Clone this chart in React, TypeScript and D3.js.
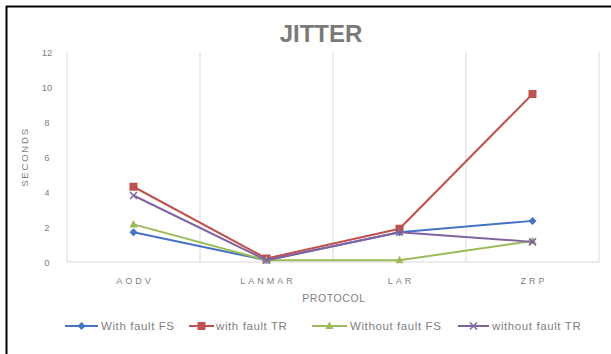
import React from "react";
import * as d3 from "d3";

const categories = ["AODV", "LANMAR", "LAR", "ZRP"];
const seriesNames = ["With fault FS", "with fault TR", "Without fault FS", "without fault TR"];
const withFaultFS = [1.7, 0.1, 1.7, 2.35];
const withFaultTR = [4.3, 0.2, 1.9, 9.6];
const withoutFaultFS = [2.15, 0.1, 0.1, 1.2];
const withoutFaultTR = [3.8, 0.1, 1.7, 1.15];
const yTicks = [0, 2, 4, 6, 8, 10, 12];
const colors = ["#4472c4", "#c0504d", "#9bbb59", "#8064a2"];
const markers = ["diamond", "square", "triangle", "x"];

export default function App() {
  const W = 611, H = 354;
  const left = 67, right = 599, top = 52, bottom = 262;
  const x = d3.scaleBand().domain(categories).range([left, right]);
  const y = d3.scaleLinear().domain([0, 12]).range([bottom, top]);
  const data = [withFaultFS, withFaultTR, withoutFaultFS, withoutFaultTR];
  const cx = (i: number) => x(categories[i])! + x.bandwidth() / 2;
  const line = d3.line<number>().x((_, i) => cx(i)).y((d) => y(d));
  const font = "'Liberation Sans', Arial, sans-serif";

  const marker = (type: string, mx: number, my: number, c: string, key: string) => {
    if (type === "diamond") return <path key={key} d={`M${mx},${my - 4}L${mx + 4},${my}L${mx},${my + 4}L${mx - 4},${my}Z`} fill={c} />;
    if (type === "square") return <rect key={key} x={mx - 4} y={my - 4} width={8} height={8} fill={c} />;
    if (type === "triangle") return <path key={key} d={`M${mx},${my - 4.5}L${mx + 4},${my + 3}L${mx - 4},${my + 3}Z`} fill={c} />;
    return <path key={key} d={`M${mx - 3.5},${my - 3.5}L${mx + 3.5},${my + 3.5}M${mx + 3.5},${my - 3.5}L${mx - 3.5},${my + 3.5}`} stroke={c} strokeWidth={1.5} />;
  };

  const legendLine = [[65, 98], [189, 214], [312, 347], [458, 489]];
  const legendText = [101, 216, 350, 492];
  const ly = 326;

  return (
    <svg width={W} height={H} style={{ position: "absolute", left: 0, top: 0, background: "#fff" }}>
      <rect x={0} y={0} width={W} height={H} fill="#fff" />
      <line x1={6.5} y1={6} x2={6.5} y2={H} stroke="#000" strokeWidth={2} />
      <line x1={6} y1={6.5} x2={W} y2={6.5} stroke="#000" strokeWidth={2} />
      <text x={321} y={42} textAnchor="middle" fontFamily={font} fontWeight="bold" fontSize={24} fill="#7a7a7a">JITTER</text>
      {categories.map((c, i) => (
        <line key={"g" + i} x1={x(c)!} x2={x(c)!} y1={top} y2={bottom} stroke="#d9d9d9" strokeWidth={1} />
      ))}
      <line x1={right} x2={right} y1={top} y2={bottom} stroke="#d9d9d9" />
      <line x1={left} x2={right} y1={bottom} y2={bottom} stroke="#d9d9d9" />
      {yTicks.map((t) => (
        <text key={"y" + t} x={47} y={y(t) + 3.5} textAnchor="middle" fontFamily={font} fontSize={9.5} fill="#7f7f7f">{t}</text>
      ))}
      <text transform={`translate(28,${157}) rotate(-90)`} textAnchor="middle" fontFamily={font} fontSize={9.5} letterSpacing={1.8} fill="#7f7f7f">SECONDS</text>
      {categories.map((c, i) => (
        <text key={"x" + c} x={cx(i) + 1.5} y={284} textAnchor="middle" fontFamily={font} fontSize={9} letterSpacing={3} fill="#7f7f7f">{c}</text>
      ))}
      <text x={334} y={302} textAnchor="middle" fontFamily={font} fontSize={10.5} letterSpacing={0.6} fill="#7f7f7f">PROTOCOL</text>
      {data.map((s, si) => (
        <g key={"s" + si}>
          <path d={line(s)!} fill="none" stroke={colors[si]} strokeWidth={2} strokeLinejoin="round" />
          {s.map((v, i) => marker(markers[si], cx(i), y(v), colors[si], `m${si}-${i}`))}
        </g>
      ))}
      {seriesNames.map((n, i) => (
        <g key={"l" + i}>
          <line x1={legendLine[i][0]} x2={legendLine[i][1]} y1={ly} y2={ly} stroke={colors[i]} strokeWidth={2} />
          {marker(markers[i], (legendLine[i][0] + legendLine[i][1]) / 2, ly, colors[i], "lm" + i)}
          <text x={legendText[i]} y={ly + 4} fontFamily={font} fontSize={11.5} letterSpacing={0.6} fill="#7f7f7f">{n}</text>
        </g>
      ))}
    </svg>
  );
}
